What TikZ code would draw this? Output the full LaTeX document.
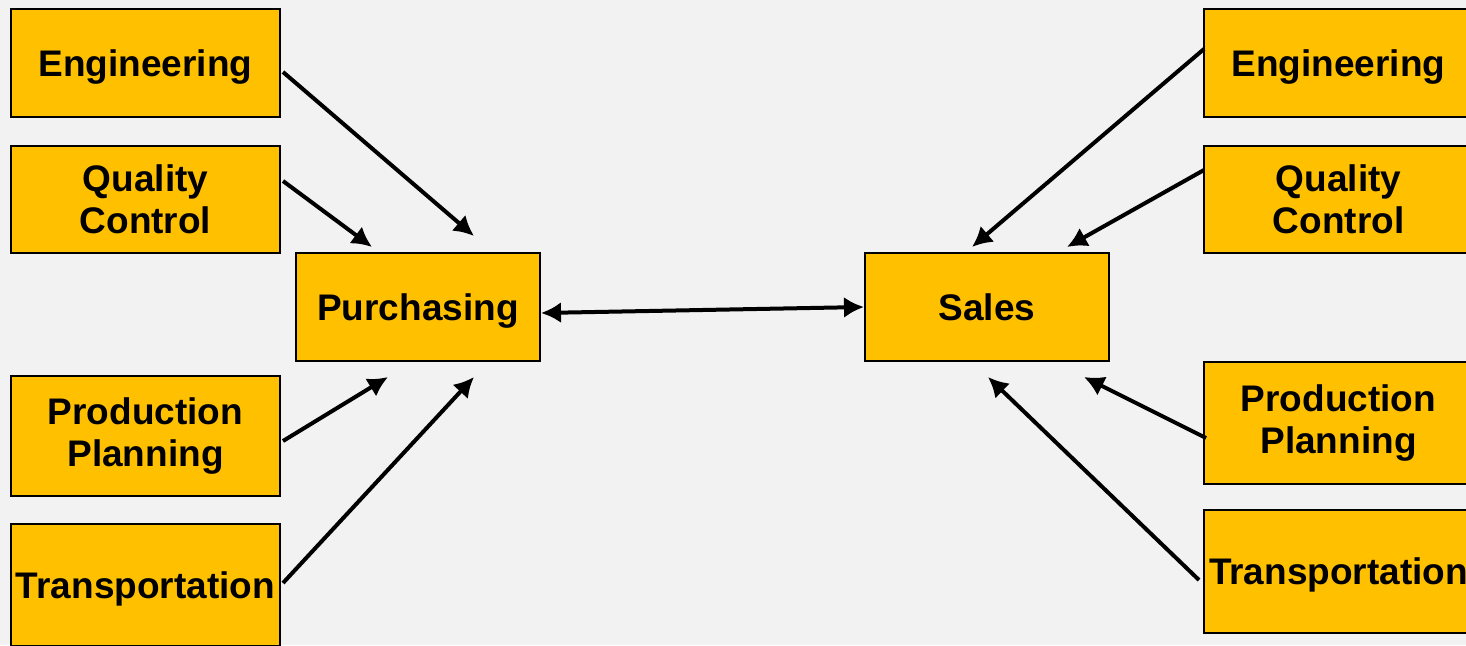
\documentclass[tikz,border=0pt]{standalone}
\usepackage{fontspec}
\setmainfont{Liberation Sans}
\usetikzlibrary{arrows.meta}
\definecolor{boxfill}{HTML}{FFC000}
\definecolor{canvas}{HTML}{F2F2F2}
\tikzset{
  dept/.style={draw=black, line width=2pt, fill=boxfill, inner sep=0pt,
    minimum width=269pt, align=center,
    font=\fontsize{37}{42}\selectfont\bfseries},
  oneline/.style={text depth=0pt},
  hub/.style={dept, oneline, minimum width=244pt, minimum height=108pt},
  tip/.tip={Latex[length=20pt,width=21pt]},
  link/.style={line width=4pt, -tip},
  biglink/.style={line width=4pt, tip-tip}
}
\begin{document}
\begin{tikzpicture}[x=1pt,y=-1pt]
  \useasboundingbox (0,0) rectangle (1466,645);
  \clip (0,0) rectangle (1466,645);
  \fill[canvas] (0,0) rectangle (1466,645);

  % left departments
  \node[dept, oneline, minimum height=108pt] (le) at (145.5,63) {Engineering};
  \node[dept, minimum height=107pt] (lq) at (145.5,199.5) {Quality\\Control};
  \node[dept, minimum height=120pt] (lp) at (145.5,436) {Production\\Planning};
  \node[dept, oneline, minimum height=122pt] (lt) at (145.5,585) {Transportation};

  % central functions
  \node[hub] (pur) at (418,307) {Purchasing};
  \node[hub] (sal) at (987,307) {Sales};

  % right departments
  \node[dept, oneline, minimum height=108pt] (re) at (1338.5,63) {Engineering};
  \node[dept, minimum height=107pt] (rq) at (1338.5,199.5) {Quality\\Control};
  \node[dept, minimum height=122pt] (rp) at (1338.5,423) {Production\\Planning};
  \node[dept, oneline, minimum height=123pt] (rt) at (1338.5,571.5) {Transportation};

  % arrow end points
  \coordinate (les) at (283,72);   \coordinate (lee) at (474,236);
  \coordinate (lqs) at (283,181);  \coordinate (lqe) at (372,247);
  \coordinate (lps) at (283,441);  \coordinate (lpe) at (388,377);
  \coordinate (lts) at (283,583);  \coordinate (lte) at (474,377);
  \coordinate (res) at (1204,49);  \coordinate (ree) at (972,247);
  \coordinate (rqs) at (1204,170); \coordinate (rqe) at (1067,247);
  \coordinate (rps) at (1206,438); \coordinate (rpe) at (1084,377);
  \coordinate (rts) at (1199,580); \coordinate (rte) at (988,377);

  \draw[link] (les) -- (lee);
  \draw[link] (lqs) -- (lqe);
  \draw[link] (lps) -- (lpe);
  \draw[link] (lts) -- (lte);
  \draw[link] (res) -- (ree);
  \draw[link] (rqs) -- (rqe);
  \draw[link] (rps) -- (rpe);
  \draw[link] (rts) -- (rte);

  \draw[biglink] ([yshift=-6pt]pur.east) -- (sal.west);
\end{tikzpicture}
\end{document}
